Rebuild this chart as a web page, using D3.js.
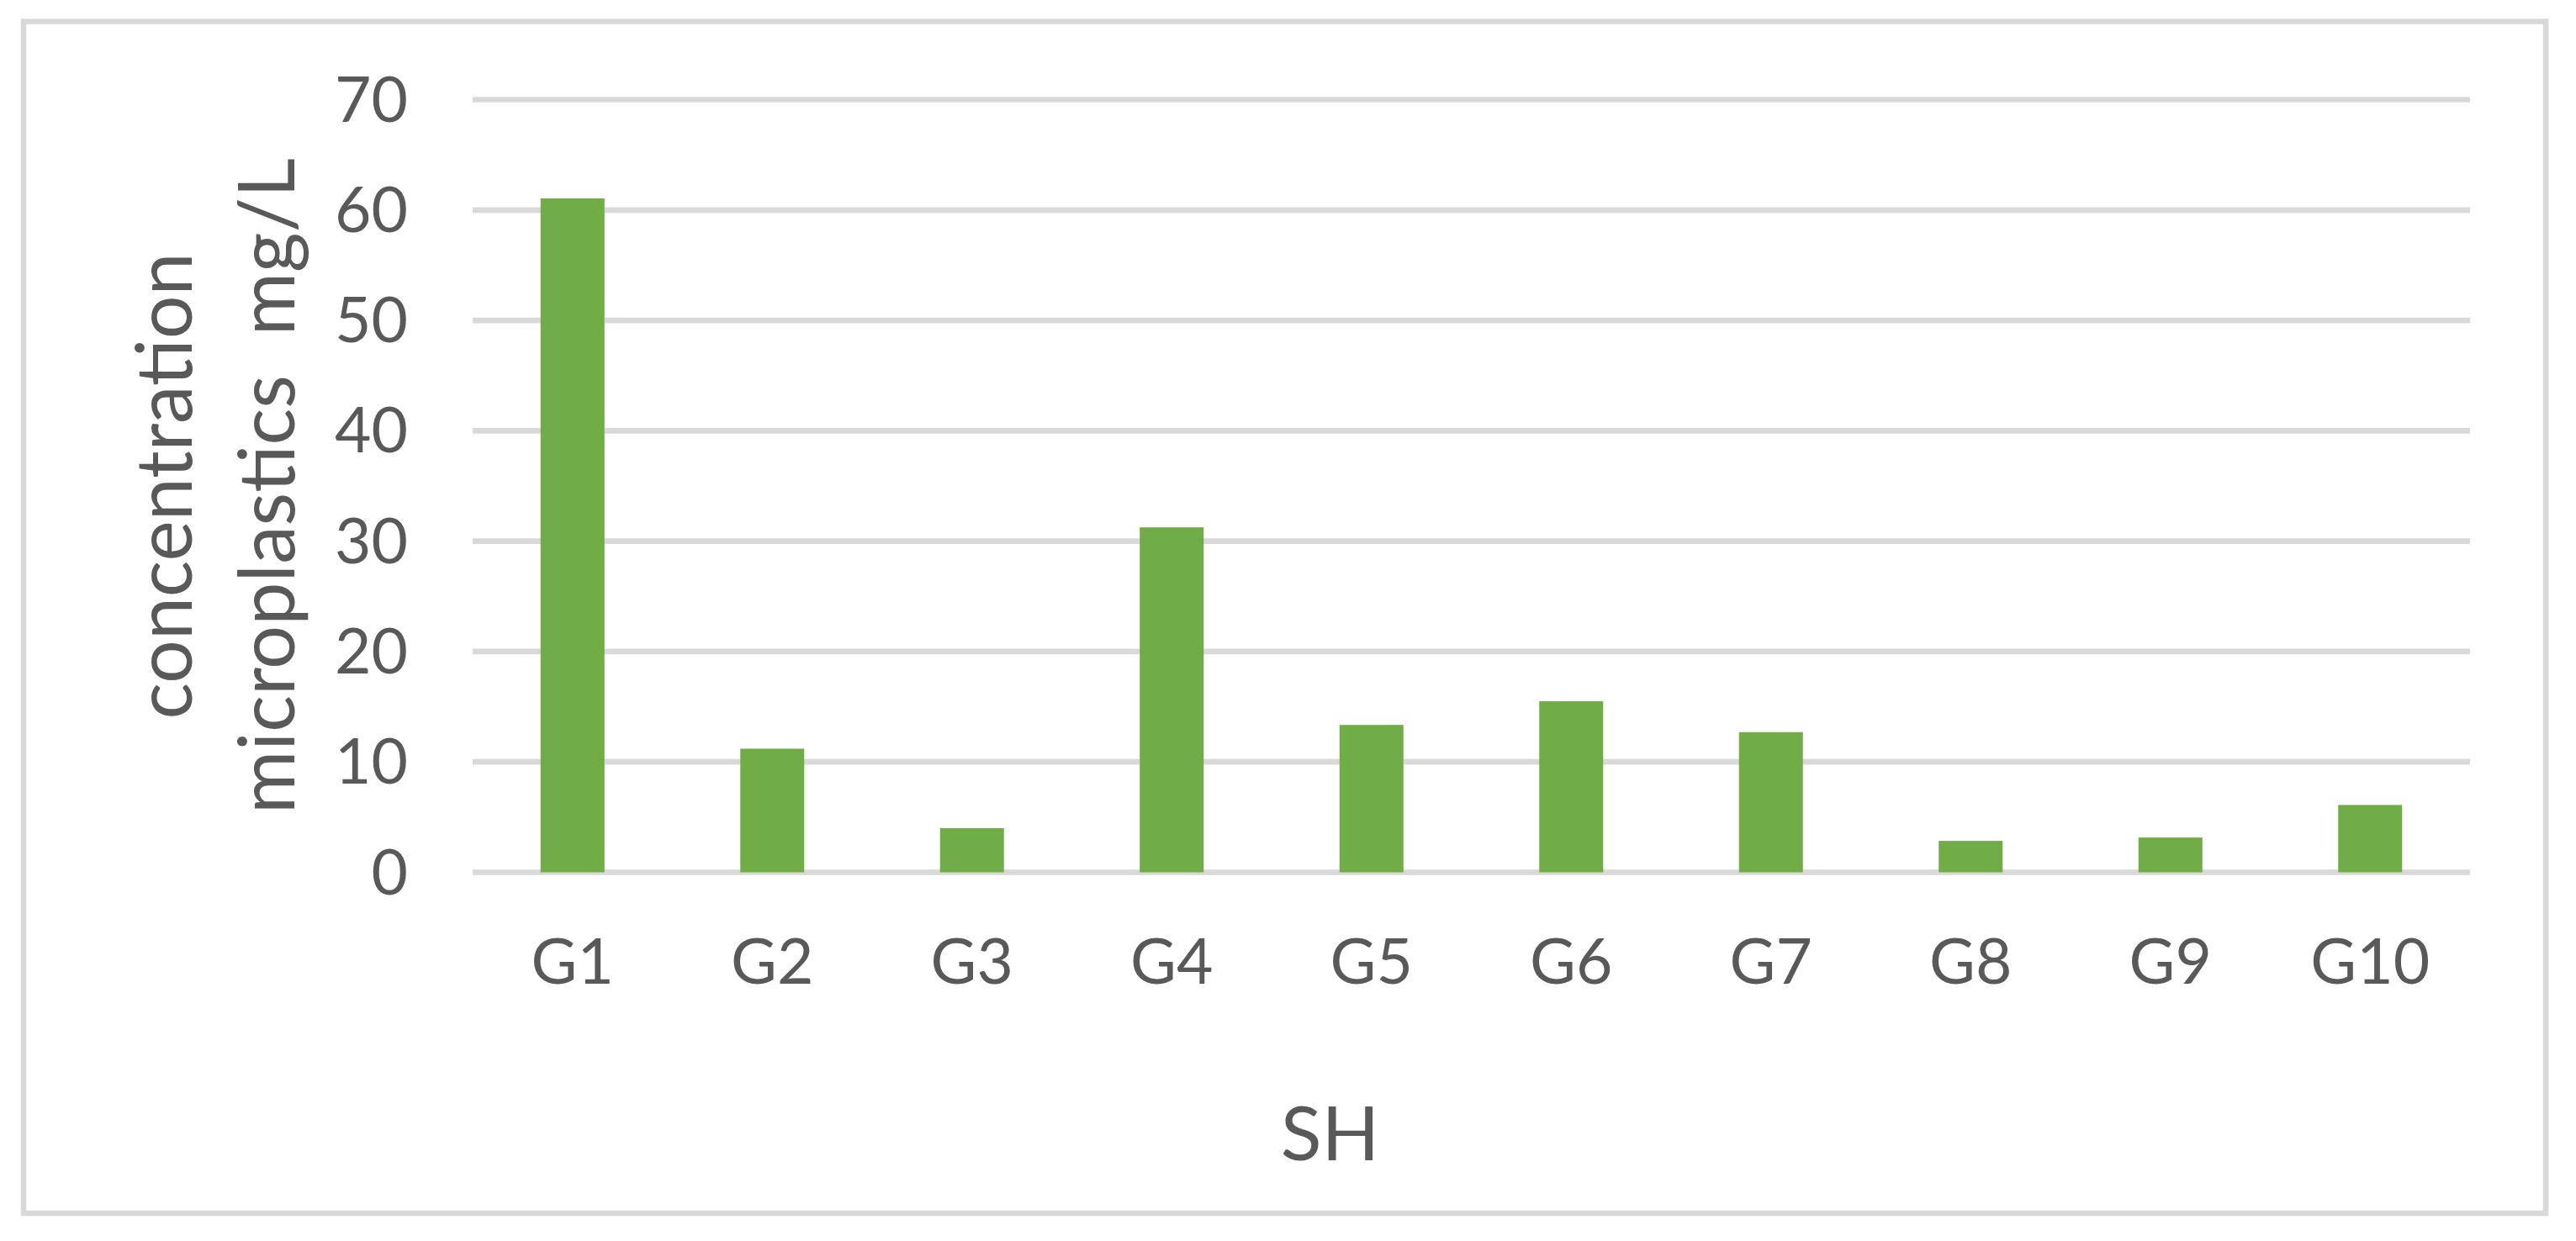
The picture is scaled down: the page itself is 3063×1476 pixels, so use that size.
<!DOCTYPE html>
<html>
<head>
<meta charset="utf-8">
<script src="https://cdn.jsdelivr.net/npm/d3@7"></script>
<style>
  html, body { margin: 0; padding: 0; background: #ffffff; }
  svg { display: block; }
  text { font-family: Lato, "Open Sans", sans-serif; fill: #595959; }
</style>
</head>
<body>
<svg id="chart" width="3063" height="1476"></svg>
<script>
const categories = ["G1", "G2", "G3", "G4", "G5", "G6", "G7", "G8", "G9", "G10"];
const values = [61.05, 11.2, 4.0, 31.25, 13.35, 15.5, 12.7, 2.85, 3.15, 6.1];
const yTicks = [0, 10, 20, 30, 40, 50, 60, 70];
const yTitleLines = ["concentration", "microplastics  mg/L"];
const xTitle = "SH";

const svg = d3.select("#chart");
const W = 3063, H = 1476;
const plot = { left: 562, right: 2937, top: 118.5, bottom: 1037.5 };

svg.append("rect").attr("width", W).attr("height", H).attr("fill", "#ffffff");

// chart border
svg.append("rect")
  .attr("x", 28).attr("y", 25.5)
  .attr("width", 3027 - 28).attr("height", 1443 - 25.5)
  .attr("fill", "none").attr("stroke", "#d9d9d9").attr("stroke-width", 6.5);

const x = d3.scaleBand().domain(categories).range([plot.left, plot.right]).padding(0);
const y = d3.scaleLinear().domain([0, 70]).range([plot.bottom, plot.top]);

// gridlines
svg.append("g").selectAll("line").data(yTicks).join("line")
  .attr("x1", plot.left).attr("x2", plot.right)
  .attr("y1", d => y(d)).attr("y2", d => y(d))
  .attr("stroke", "#d9d9d9").attr("stroke-width", 6.7);

// bars
const barW = x.bandwidth() * 0.32;
svg.append("g").selectAll("rect").data(values).join("rect")
  .attr("x", (d, i) => x(categories[i]) + x.bandwidth() / 2 - barW / 2)
  .attr("width", barW)
  .attr("y", d => y(d))
  .attr("height", d => y(0) - y(d))
  .attr("fill", "#70ad47");

// y axis labels
const yAxis = svg.append("g").attr("transform", `translate(${plot.left},0)`)
  .call(d3.axisLeft(y).tickValues(yTicks).tickSize(0).tickPadding(77).tickFormat(d3.format("d")));
yAxis.select(".domain").remove();
yAxis.selectAll("text").attr("font-size", 75).attr("dy", "0.34em")
  .style("font-family", "Lato, 'Open Sans', sans-serif").attr("fill", "#595959");

// x axis labels
const xAxis = svg.append("g").attr("transform", `translate(0,${plot.bottom})`)
  .call(d3.axisBottom(x).tickSize(0).tickPadding(79));
xAxis.select(".domain").remove();
xAxis.selectAll("text").attr("font-size", 75)
  .style("font-family", "Lato, 'Open Sans', sans-serif").attr("fill", "#595959");

// y axis title (two lines, rotated)
const yMid = (plot.top + plot.bottom) / 2;
const titleBaselines = [228, 349.5];
const titleLengths = [555, 780];
yTitleLines.forEach((t, i) => {
  svg.append("text")
    .attr("transform", `translate(${titleBaselines[i]},${yMid}) rotate(-90)`)
    .attr("text-anchor", "middle")
    .attr("font-size", 93)
    .attr("textLength", titleLengths[i])
    .attr("lengthAdjust", "spacingAndGlyphs")
    .style("white-space", "pre")
    .text(t);
});

// x axis title
svg.append("text")
  .attr("x", 1581.5).attr("y", 1380)
  .attr("text-anchor", "middle")
  .attr("font-size", 90)
  .text(xTitle);
</script>
</body>
</html>
